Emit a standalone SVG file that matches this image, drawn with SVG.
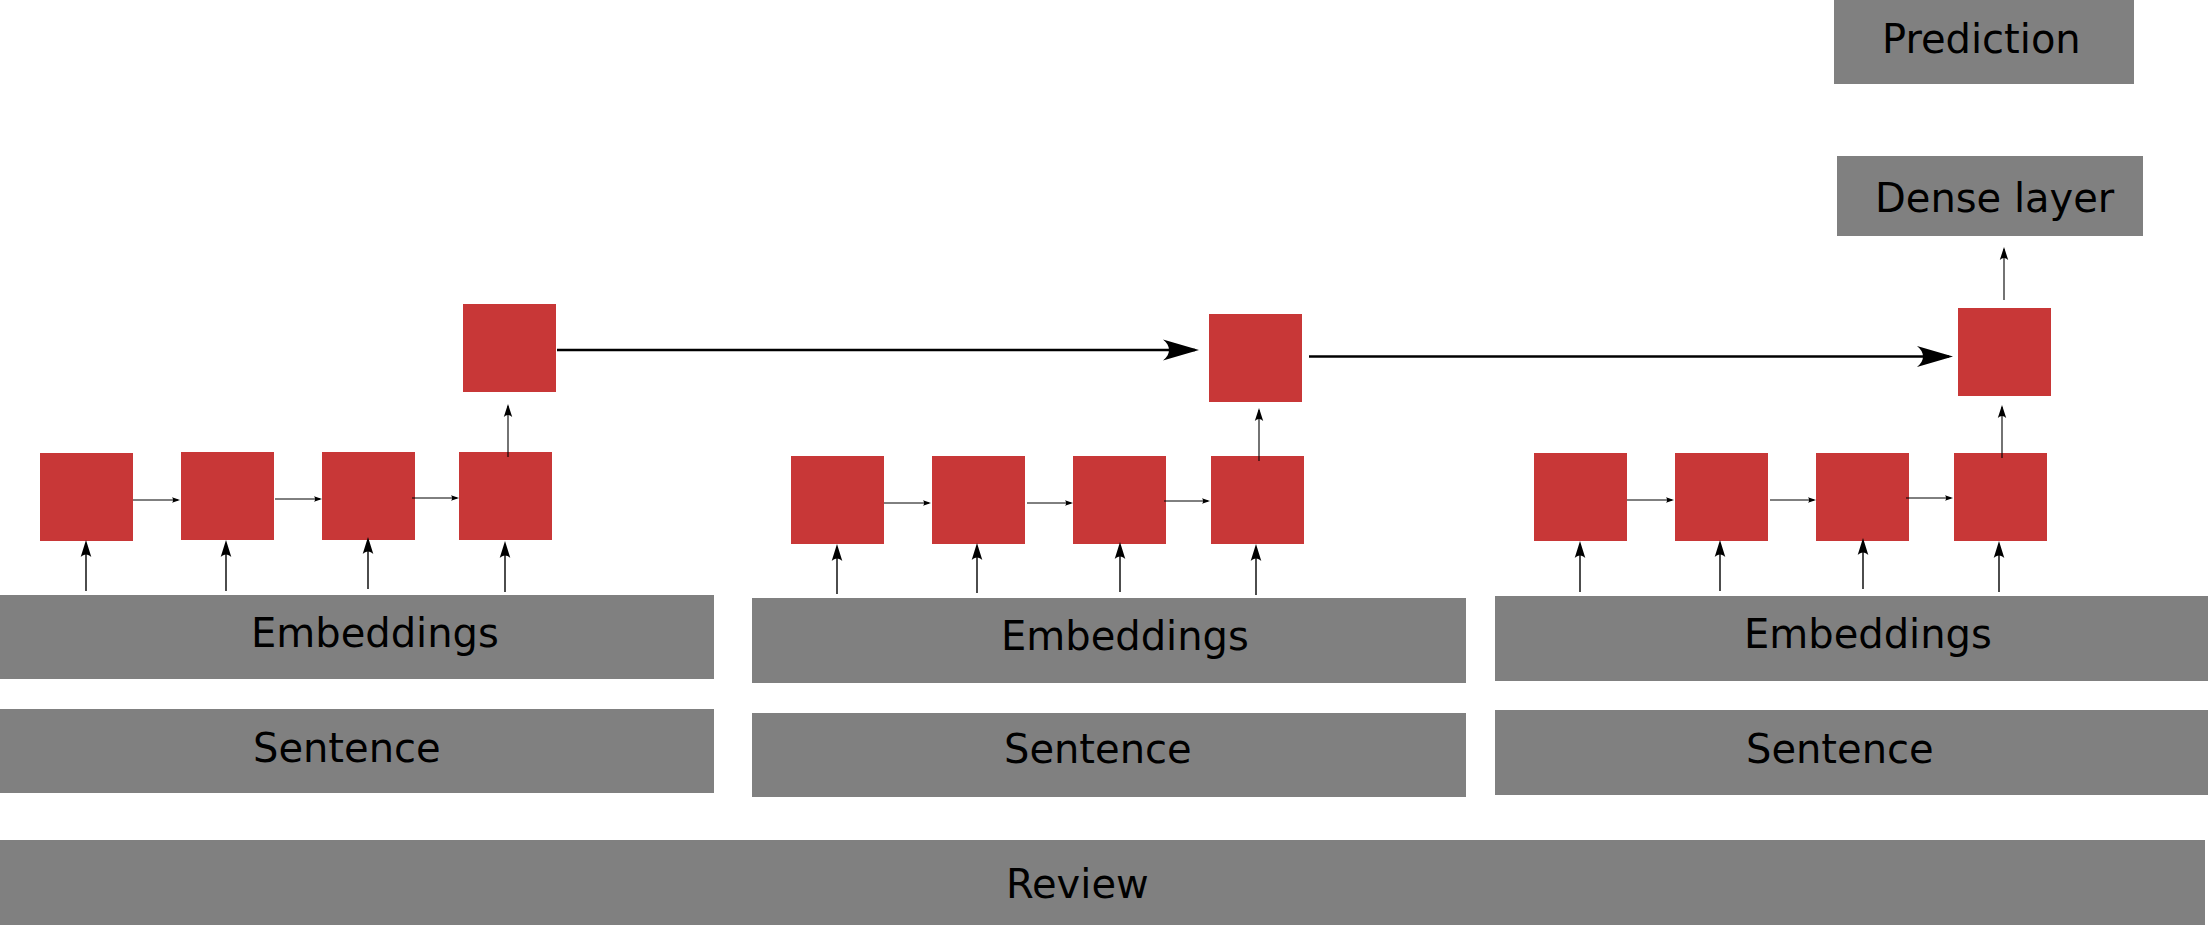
<svg xmlns="http://www.w3.org/2000/svg" width="2209" height="925" viewBox="0 0 2209 925">
<style>
.red{fill:#c83737}
.grey{fill:#808080}
.lbl{font-family:"DejaVu Sans","Liberation Sans",sans-serif;font-size:40px;fill:#000}
.s{stroke:#000;stroke-width:1;fill:none;marker-end:url(#headS)}
.e{stroke:#000;stroke-width:1.4;fill:none;marker-end:url(#headE)}
.u{stroke:#000;stroke-width:1.1;fill:none;marker-end:url(#headU)}
.b{stroke:#000;stroke-width:2.4;fill:none;marker-end:url(#headB)}
</style>
<defs>
<marker id="headS" markerUnits="userSpaceOnUse" orient="auto" refX="0" refY="0" markerWidth="10" markerHeight="10" style="overflow:visible"><path d="M2,0 L-6,-2.8 C-4.5,-1 -4.5,1 -6,2.8 Z" fill="#000"/></marker>
<marker id="headE" markerUnits="userSpaceOnUse" orient="auto" refX="0" refY="0" markerWidth="10" markerHeight="10" style="overflow:visible"><path d="M3,0 L-14,-5.3 C-10.5,-2 -10.5,2 -14,5.3 Z" fill="#000"/></marker>
<marker id="headU" markerUnits="userSpaceOnUse" orient="auto" refX="0" refY="0" markerWidth="10" markerHeight="10" style="overflow:visible"><path d="M2,0 L-11,-4.2 C-8.3,-1.5 -8.3,1.5 -11,4.2 Z" fill="#000"/></marker>
<marker id="headB" markerUnits="userSpaceOnUse" orient="auto" refX="0" refY="0" markerWidth="10" markerHeight="10" style="overflow:visible"><path d="M4,0 L-32,-10.5 C-24,-4 -24,4 -32,10.5 Z" fill="#000"/></marker>
</defs>
<rect width="2209" height="925" fill="#fff"/>

<g id="review"><rect class="grey" x="0" y="840" width="2205" height="85"/><text class="lbl" x="1006" y="898">Review</text></g>

<g id="sentence-1"><rect class="grey" x="0" y="709" width="714" height="84"/><text class="lbl" x="253" y="762">Sentence</text></g>
<g id="embeddings-1"><rect class="grey" x="0" y="595" width="714" height="84"/><text class="lbl" x="251" y="647">Embeddings</text></g>
<g id="sentence-2"><rect class="grey" x="752" y="713" width="714" height="84"/><text class="lbl" x="1004" y="763">Sentence</text></g>
<g id="embeddings-2"><rect class="grey" x="752" y="598" width="714" height="85"/><text class="lbl" x="1001" y="650">Embeddings</text></g>
<g id="sentence-3"><rect class="grey" x="1495" y="710" width="713" height="85"/><text class="lbl" x="1746" y="763">Sentence</text></g>
<g id="embeddings-3"><rect class="grey" x="1495" y="596" width="713" height="85"/><text class="lbl" x="1744" y="648">Embeddings</text></g>

<g id="dense"><rect class="grey" x="1837" y="156" width="306" height="80"/><text class="lbl" x="1875" y="212">Dense layer</text></g>
<g id="prediction"><rect class="grey" x="1834" y="0" width="300" height="84"/><text class="lbl" x="1882" y="53">Prediction</text></g>

<g id="w1-1"><rect class="red" x="40" y="453" width="93" height="88"/></g>
<g id="w1-2"><rect class="red" x="181" y="452" width="93" height="88"/></g>
<g id="w1-3"><rect class="red" x="322" y="452" width="93" height="88"/></g>
<g id="w1-4"><rect class="red" x="459" y="452" width="93" height="88"/></g>
<g id="s1"><rect class="red" x="463" y="304" width="93" height="88"/></g>

<g id="w2-1"><rect class="red" x="791" y="456" width="93" height="88"/></g>
<g id="w2-2"><rect class="red" x="932" y="456" width="93" height="88"/></g>
<g id="w2-3"><rect class="red" x="1073" y="456" width="93" height="88"/></g>
<g id="w2-4"><rect class="red" x="1211" y="456" width="93" height="88"/></g>
<g id="s2"><rect class="red" x="1209" y="314" width="93" height="88"/></g>

<g id="w3-1"><rect class="red" x="1534" y="453" width="93" height="88"/></g>
<g id="w3-2"><rect class="red" x="1675" y="453" width="93" height="88"/></g>
<g id="w3-3"><rect class="red" x="1816" y="453" width="93" height="88"/></g>
<g id="w3-4"><rect class="red" x="1954" y="453" width="93" height="88"/></g>
<g id="s3"><rect class="red" x="1958" y="308" width="93" height="88"/></g>

<g id="connectors">
<path class="s" d="M133,500 H178"/>
<path class="s" d="M275,499 H320"/>
<path class="s" d="M412,498 H457"/>
<path class="s" d="M884,503 H929"/>
<path class="s" d="M1027,503 H1071"/>
<path class="s" d="M1164,501 H1208"/>
<path class="s" d="M1627,500 H1672"/>
<path class="s" d="M1770,500 H1814"/>
<path class="s" d="M1906,498 H1951"/>

<path class="e" d="M86,591 V543"/>
<path class="e" d="M226,591 V543"/>
<path class="e" d="M368,589 V540"/>
<path class="e" d="M505,592 V544"/>
<path class="e" d="M837,594 V547"/>
<path class="e" d="M977,593 V546"/>
<path class="e" d="M1120,592 V545"/>
<path class="e" d="M1256,595 V547"/>
<path class="e" d="M1580,592 V544"/>
<path class="e" d="M1720,591 V543"/>
<path class="e" d="M1863,589 V541"/>
<path class="e" d="M1999,592 V544"/>

<path class="u" d="M508,457 V406"/>
<path class="u" d="M1259,461 V410"/>
<path class="u" d="M2002,458 V407"/>
<path class="u" d="M2004,300 V249"/>

<path class="b" d="M557,350 H1195"/>
<path class="b" d="M1309,356.5 H1949"/>
</g>
</svg>
